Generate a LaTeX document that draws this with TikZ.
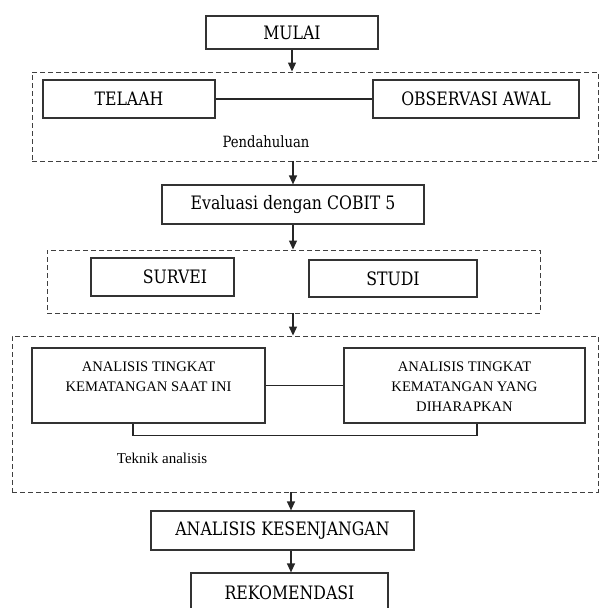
\documentclass[tikz,border=0pt]{standalone}
\usepackage{fontspec}
\setmainfont{Liberation Serif}
\newfontfamily\slab[FakeStretch=0.85]{DejaVu Serif}
\usetikzlibrary{arrows.meta}
\begin{document}
\begin{tikzpicture}[x=1pt,y=-1pt,
  box/.style={draw=black!80, line width=1.2pt, inner sep=0pt, rectangle,
    font=\slab\fontsize{18.5}{20}\selectfont},
  grp/.style={draw=black!75, line width=0.9pt, dash pattern=on 5pt off 3pt, inner sep=0pt, rectangle},
  con/.style={draw=black!85, line width=1.2pt},
  arr/.style={con, -{Triangle[length=9pt,width=8pt]}},
  abox/.style={draw=black!80, line width=1.2pt, inner sep=0pt, rectangle},
  atext/.style={font=\fontsize{14.6}{20}\selectfont, align=center, anchor=north, inner sep=0pt},
  lbl/.style={inner sep=0pt},
]
\useasboundingbox (0,0) rectangle (599,608);

% groups
\node[grp, minimum width=566pt, minimum height=89pt] (g1) at (315,116.5) {};
\node[grp, minimum width=493pt, minimum height=63pt] (g2) at (293.5,281.5) {};
\node[grp, minimum width=586pt, minimum height=156pt] (g3) at (305,414) {};

% boxes
\node[box, minimum width=172pt, minimum height=33pt] (mulai) at (292,32.5) {MULAI};
\node[box, minimum width=172pt, minimum height=38pt] (telaah) at (129,99) {TELAAH};
\node[box, minimum width=206pt, minimum height=38pt] (obs) at (476,99) {OBSERVASI AWAL};
\node[lbl, font=\slab\fontsize{15.5}{18}\selectfont] (pend) at (266,142) {Pendahuluan};
\node[box, minimum width=262pt, minimum height=39pt] (eval) at (293,204.5) {Evaluasi dengan COBIT 5};
\node[box, minimum width=143pt, minimum height=38pt] (survei) at (162.5,277) {\hspace*{25pt}SURVEI};
\node[box, minimum width=168pt, minimum height=37pt] (studi) at (393,278.5) {STUDI};

\node[abox, minimum width=233pt, minimum height=75pt] (a1) at (148.5,385.5) {};
\node[abox, minimum width=241pt, minimum height=75pt] (a2) at (464.5,385.5) {};
\node[atext] (t1) at ([yshift=-14pt]a1.north) {ANALISIS TINGKAT\\KEMATANGAN SAAT INI};
\node[atext] (t2) at ([yshift=-14pt]a2.north) {ANALISIS TINGKAT\\KEMATANGAN YANG\\DIHARAPKAN};
\node[lbl, font=\fontsize{15}{18}\selectfont] (tek) at (162,458) {Teknik analisis};

\node[box, minimum width=263pt, minimum height=39pt] (ak) at (282.5,530.5) {ANALISIS KESENJANGAN};
\node[box, minimum width=197pt, minimum height=39pt] (reko) at (289.5,592.5) {REKOMENDASI};

% connectors
\draw[arr] (mulai.south) -- (mulai.south |- g1.north);
\draw[con] (telaah.east) -- (obs.west);
\draw[arr] (eval.north |- g1.south) -- (eval.north);
\draw[arr] (eval.south) -- (eval.south |- g2.north);
\draw[arr] (eval.south |- g2.south) -- (eval.south |- g3.north);
\draw[con] (a1.east) -- (a2.west);
\coordinate (bl) at ([xshift=-15.5pt]a1.south);
\coordinate (br) at ([xshift=12.5pt]a2.south);
\draw[con] (bl) -- ++(0,12) -| (br);
\coordinate (ax) at ([xshift=1.5pt]reko.north);
\draw[arr] (ax |- g3.south) -- (ax |- ak.north);
\draw[arr] (ax |- ak.south) -- (ax);
\end{tikzpicture}
\end{document}
